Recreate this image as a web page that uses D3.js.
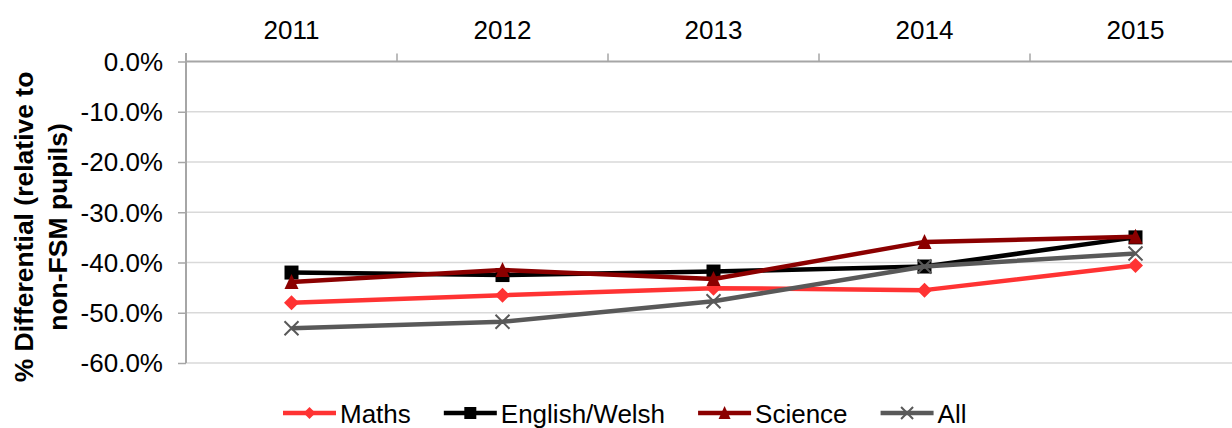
<!DOCTYPE html>
<html>
<head>
<meta charset="utf-8">
<script src="https://cdn.jsdelivr.net/npm/d3@7"></script>
<style>
  html, body { margin: 0; padding: 0; background: #fff; }
  svg { display: block; font-family: "Liberation Sans", Arial, sans-serif; }
</style>
</head>
<body>
<svg id="chart" width="1232" height="428"></svg>
<script>
// Years along the top axis
const years = ["2011", "2012", "2013", "2014", "2015"];

// % differential relative to non-FSM pupils, one array per subject
const maths   = [-48.0, -46.5, -45.1, -45.5, -40.6];
const english = [-42.0, -42.5, -41.8, -40.8, -35.0];
const science = [-43.9, -41.5, -43.3, -35.9, -34.9];
const allSubj = [-53.1, -51.8, -47.7, -40.8, -38.2];

// Y tick values
const yTicks = [0, -10, -20, -30, -40, -50, -60];

const seriesNames = ["Maths", "English/Welsh", "Science", "All"];

const series = [
  { name: seriesNames[0], values: maths,   color: "#ff3333", marker: "diamond" },
  { name: seriesNames[1], values: english, color: "#000000", marker: "square" },
  { name: seriesNames[2], values: science, color: "#8b0000", marker: "triangle" },
  { name: seriesNames[3], values: allSubj, color: "#595959", marker: "cross" }
];

const svg = d3.select("#chart");
const plotLeft = 186, bandW = 211, plotTop = 61.5, plotBottom = 363;

const x = d3.scaleBand().domain(years).range([plotLeft, plotLeft + bandW * years.length]).padding(0);
const y = d3.scaleLinear().domain([-60, 0]).range([plotBottom, plotTop]);

// Horizontal gridlines
svg.append("g").selectAll("line").data(yTicks.filter(d => d !== 0)).join("line")
  .attr("x1", plotLeft).attr("x2", 1232)
  .attr("y1", d => y(d)).attr("y2", d => y(d))
  .attr("stroke", "#d9d9d9").attr("stroke-width", 1.5);

// Y axis (left), plain hyphen for negatives
const pct = d => d3.format(".1f")(d).replace("\u2212", "-") + "%";
const yAxis = d3.axisLeft(y).tickValues(yTicks).tickSize(8).tickPadding(15).tickFormat(pct);
const gy = svg.append("g").attr("transform", `translate(${plotLeft},0)`).call(yAxis);
gy.select(".domain").attr("stroke", "#a6a6a6").attr("stroke-width", 2)
  .attr("d", `M0,${plotTop - 8.5}V${plotBottom}`);
gy.selectAll(".tick line").attr("stroke", "#a6a6a6").attr("stroke-width", 1.5);
gy.selectAll(".tick text").attr("font-size", 26).attr("fill", "#000")
  .attr("font-family", "Liberation Sans, Arial, sans-serif").attr("dy", "0.34em");

// X axis along the zero line, labels above
const xAxis = d3.axisTop(x).tickSize(0).tickPadding(23);
const gx = svg.append("g").attr("transform", `translate(0,${plotTop})`).call(xAxis);
gx.select(".domain").attr("stroke", "#a6a6a6").attr("stroke-width", 2)
  .attr("d", `M${plotLeft},0H1232`);
gx.selectAll(".tick text").attr("font-size", 26).attr("fill", "#000")
  .attr("font-family", "Liberation Sans, Arial, sans-serif");
// Category boundary tick marks
svg.append("g").selectAll("line").data(years.slice(1)).join("line")
  .attr("x1", d => x(d)).attr("x2", d => x(d))
  .attr("y1", plotTop - 8).attr("y2", plotTop)
  .attr("stroke", "#a6a6a6").attr("stroke-width", 1.5);

// Y axis title
const title = svg.append("text")
  .attr("transform", "translate(41,227) rotate(-90)")
  .attr("text-anchor", "middle")
  .attr("font-size", 26.5).attr("font-weight", "bold").attr("fill", "#000");
title.append("tspan").attr("x", 0).attr("dy", "-0.3em").text("% Differential (relative to");
title.append("tspan").attr("x", 0).attr("dy", "1.28em").text("non-FSM pupils)");

// Marker shapes
function markerPath(type, s) {
  const h = s / 2;
  if (type === "diamond") return `M0,${-h}L${h},0L0,${h}L${-h},0Z`;
  if (type === "square") return `M${-h},${-h}H${h}V${h}H${-h}Z`;
  if (type === "triangle") return `M0,${-h - 1}L${h},${h}L${-h},${h}Z`;
  return `M${-h},${-h}L${h},${h}M${h},${-h}L${-h},${h}`;
}
function drawMarker(g, type, color, cx, cy, s) {
  const p = g.append("path").attr("transform", `translate(${cx},${cy})`)
    .attr("d", markerPath(type, s));
  if (type === "cross") p.attr("fill", "none").attr("stroke", color).attr("stroke-width", 2);
  else p.attr("fill", color);
}

const line = d3.line().x((d, i) => x(years[i]) + x.bandwidth() / 2).y(d => y(d));

series.forEach(s => {
  const g = svg.append("g");
  g.append("path").datum(s.values).attr("d", line)
    .attr("fill", "none").attr("stroke", s.color).attr("stroke-width", 4.5)
    .attr("stroke-linejoin", "round");
  s.values.forEach((v, i) => {
    drawMarker(g, s.marker, s.color, x(years[i]) + x.bandwidth() / 2, y(v),
      s.marker === "diamond" ? 15 : 14);
  });
});

// Legend
const legend = svg.append("g");
let lx = 283;
const ly = 413;
series.forEach(s => {
  const g = legend.append("g");
  g.append("line").attr("x1", lx).attr("x2", lx + 53).attr("y1", ly).attr("y2", ly)
    .attr("stroke", s.color).attr("stroke-width", 4.5);
  drawMarker(g, s.marker, s.color, lx + 26.5, ly, 12);
  const t = g.append("text").attr("x", lx + 57).attr("y", ly + 10)
    .attr("font-size", 26).attr("fill", "#000").text(s.name);
  lx += 57 + t.node().getComputedTextLength() + 33;
});
</script>
</body>
</html>
